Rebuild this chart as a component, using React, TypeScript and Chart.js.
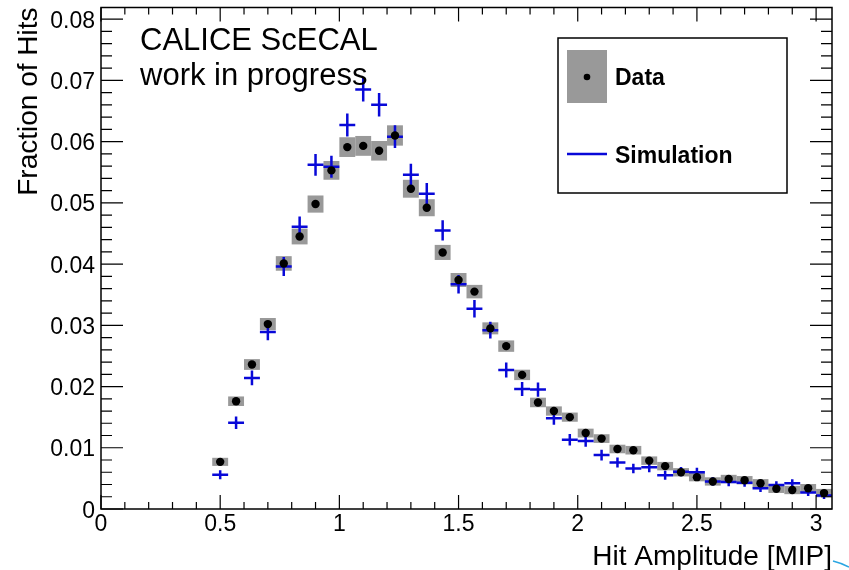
import { useEffect, useRef } from "react";
import { Chart, registerables } from "chart.js";

Chart.register(...registerables);

// Hit amplitude bins (MIP), bin width 1/15 MIP
const binCenters = [
  0.5, 0.5667, 0.6333, 0.7, 0.7667, 0.8333, 0.9, 0.9667, 1.0333, 1.1, 1.1667, 1.2333, 1.3,
  1.3667, 1.4333, 1.5, 1.5667, 1.6333, 1.7, 1.7667, 1.8333, 1.9, 1.9667, 2.0333, 2.1, 2.1667,
  2.2333, 2.3, 2.3667, 2.4333, 2.5, 2.5667, 2.6333, 2.7, 2.7667, 2.8333, 2.9, 2.9667, 3.0333,
];
const binWidth = 0.0667;

// Measured fraction of hits per bin
const dataFraction = [
  0.0077, 0.0176, 0.0236, 0.0302, 0.0401, 0.0445, 0.0498, 0.0553, 0.0591, 0.0593, 0.0585, 0.061,
  0.0523, 0.0492, 0.0419, 0.0374, 0.0355, 0.0295, 0.0266, 0.0219, 0.0174, 0.016, 0.015, 0.0124,
  0.0115, 0.0098, 0.0096, 0.0079, 0.007, 0.006, 0.0052, 0.0045, 0.0049, 0.0047, 0.0042, 0.0033,
  0.0031, 0.0034, 0.0026,
];
// Systematic uncertainty of the data (half height of the grey band)
const dataSyst = [
  0.00066, 0.00078, 0.00088, 0.00099, 0.00119, 0.00129, 0.0014, 0.00153, 0.00161, 0.00162, 0.0016,
  0.00166, 0.00146, 0.00139, 0.00123, 0.00114, 0.0011, 0.00098, 0.00093, 0.00085, 0.00078, 0.00076,
  0.00075, 0.00072, 0.00071, 0.0007, 0.0007, 0.00069, 0.00069, 0.00068, 0.00068, 0.00068, 0.00068,
  0.00068, 0.00068, 0.00068, 0.00068, 0.00068, 0.00068,
];

// Simulated fraction of hits per bin
const simFraction = [
  0.0056, 0.0141, 0.0214, 0.0289, 0.0396, 0.0461, 0.0562, 0.0559, 0.0627, 0.0685, 0.066, 0.0608,
  0.0546, 0.0515, 0.0455, 0.0367, 0.0327, 0.0292, 0.0227, 0.0196, 0.0195, 0.0148, 0.0113, 0.0111,
  0.0088, 0.0076, 0.0066, 0.0068, 0.0055, 0.0061, 0.006, 0.0045, 0.0044, 0.0043, 0.0034, 0.0039,
  0.0042, 0.0027, 0.0022,
];
// Statistical uncertainty of the simulation
const simErr = [
  0.00073, 0.00102, 0.0012, 0.00136, 0.00155, 0.00165, 0.00179, 0.00179, 0.00188, 0.00196, 0.00192,
  0.00186, 0.00177, 0.00173, 0.00164, 0.0015, 0.00143, 0.00136, 0.00123, 0.00116, 0.00116, 0.00104,
  0.00094, 0.00093, 0.00086, 0.00082, 0.00078, 0.00078, 0.00073, 0.00075, 0.00075, 0.00068, 0.00068,
  0.00067, 0.00063, 0.00065, 0.00067, 0.00058, 0.00055,
];

const xMin = 0;
const xMax = 3.0667;
const yMin = 0;
const yMax = 0.0819;

const xMajorTicks = [0, 0.5, 1, 1.5, 2, 2.5, 3];
const xTickLabels = ["0", "0.5", "1", "1.5", "2", "2.5", "3"];
const xMinorStep = 0.1;
const yMajorTicks = [0, 0.01, 0.02, 0.03, 0.04, 0.05, 0.06, 0.07, 0.08];
const yTickLabels = ["0", "0.01", "0.02", "0.03", "0.04", "0.05", "0.06", "0.07", "0.08"];
const yMinorStep = 0.002;

const xTitle = "Hit Amplitude [MIP]";
const yTitle = "Fraction of Hits";
const noteLines = ["CALICE ScECAL", "work in progress"];
const legendLabels = ["Data", "Simulation"];

const SIM_BLUE = "#0808d8";
const SYST_GREY = "#999999";
const FONT = "'Liberation Sans', Arial, Helvetica, sans-serif";

const rootStyle = {
  id: "rootStyle",
  beforeDatasetsDraw(chart: any) {
    const { ctx, scales } = chart;
    const x = scales.x;
    const y = scales.y;
    ctx.save();
    // grey systematic bands behind the data points
    ctx.fillStyle = SYST_GREY;
    binCenters.forEach((c, i) => {
      const x0 = x.getPixelForValue(c - binWidth / 2);
      const x1 = x.getPixelForValue(c + binWidth / 2);
      const y0 = y.getPixelForValue(dataFraction[i] + dataSyst[i]);
      const y1 = y.getPixelForValue(dataFraction[i] - dataSyst[i]);
      ctx.fillRect(x0, y0, x1 - x0, y1 - y0);
    });
    // simulation: horizontal bin bar with vertical error bar
    ctx.strokeStyle = SIM_BLUE;
    ctx.lineWidth = 2.5;
    ctx.lineCap = "butt";
    binCenters.forEach((c, i) => {
      const x0 = x.getPixelForValue(c - binWidth / 2);
      const x1 = x.getPixelForValue(c + binWidth / 2);
      const xc = x.getPixelForValue(c);
      const yc = y.getPixelForValue(simFraction[i]);
      const yt = y.getPixelForValue(simFraction[i] + simErr[i]);
      const yb = y.getPixelForValue(simFraction[i] - simErr[i]);
      ctx.beginPath();
      ctx.moveTo(x0, yc);
      ctx.lineTo(x1, yc);
      ctx.moveTo(xc, yt);
      ctx.lineTo(xc, yb);
      ctx.stroke();
    });
    ctx.restore();
  },
  afterDraw(chart: any) {
    const { ctx, scales, chartArea } = chart;
    const x = scales.x;
    const y = scales.y;
    const { left, right, top, bottom } = chartArea;
    ctx.save();

    // frame
    ctx.strokeStyle = "#000";
    ctx.lineWidth = 1.5;
    ctx.strokeRect(left, top, right - left, bottom - top);

    // ticks, drawn inwards on all four sides
    ctx.lineWidth = 1.2;
    ctx.beginPath();
    for (let v = xMin; v <= xMax + 1e-9; v += xMinorStep) {
      const px = x.getPixelForValue(v);
      const major = xMajorTicks.some((t) => Math.abs(t - v) < 1e-6);
      const len = major ? 14 : 7;
      ctx.moveTo(px, bottom);
      ctx.lineTo(px, bottom - len);
      ctx.moveTo(px, top);
      ctx.lineTo(px, top + len);
    }
    for (let v = yMin; v <= yMax + 1e-9; v += yMinorStep) {
      const py = y.getPixelForValue(v);
      const major = yMajorTicks.some((t) => Math.abs(t - v) < 1e-6);
      const len = major ? 22 : 11;
      ctx.moveTo(left, py);
      ctx.lineTo(left + len, py);
      ctx.moveTo(right, py);
      ctx.lineTo(right - len, py);
    }
    ctx.stroke();

    // tick labels
    ctx.fillStyle = "#000";
    ctx.font = `23px ${FONT}`;
    ctx.textBaseline = "alphabetic";
    ctx.textAlign = "center";
    xMajorTicks.forEach((v, i) => {
      ctx.fillText(xTickLabels[i], x.getPixelForValue(v), 531);
    });
    ctx.textAlign = "right";
    yMajorTicks.forEach((v, i) => {
      ctx.fillText(yTickLabels[i], left - 6, y.getPixelForValue(v) + 8.5);
    });

    // axis titles
    ctx.font = `28px ${FONT}`;
    ctx.textAlign = "right";
    ctx.fillText(xTitle, right, 565);
    ctx.save();
    ctx.translate(37, top);
    ctx.rotate(-Math.PI / 2);
    ctx.textAlign = "right";
    ctx.fillText(yTitle, 0, 0);
    ctx.restore();

    // note text
    ctx.font = `31px ${FONT}`;
    ctx.textAlign = "left";
    ctx.fillText(noteLines[0], 140, 50);
    ctx.fillText(noteLines[1], 140, 85);

    // legend
    ctx.fillStyle = "#fff";
    ctx.fillRect(558, 38, 229, 155);
    ctx.strokeStyle = "#000";
    ctx.lineWidth = 1.5;
    ctx.strokeRect(558, 38, 229, 155);
    ctx.fillStyle = SYST_GREY;
    ctx.fillRect(567, 50, 40, 53);
    ctx.fillStyle = "#000";
    ctx.beginPath();
    ctx.arc(587, 77, 3.3, 0, Math.PI * 2);
    ctx.fill();
    ctx.strokeStyle = SIM_BLUE;
    ctx.lineWidth = 2.5;
    ctx.beginPath();
    ctx.moveTo(567, 154);
    ctx.lineTo(607, 154);
    ctx.stroke();
    ctx.fillStyle = "#000";
    ctx.font = `bold 23px ${FONT}`;
    ctx.textAlign = "left";
    ctx.fillText(legendLabels[0], 615, 85);
    ctx.fillText(legendLabels[1], 615, 163);

    // small cyan stroke at the lower right corner
    ctx.strokeStyle = "#2aa6e2";
    ctx.lineWidth = 1.5;
    ctx.beginPath();
    ctx.moveTo(833, 561);
    ctx.quadraticCurveTo(841, 563, 849, 567);
    ctx.stroke();

    ctx.restore();
  },
};

export default function App() {
  const canvasRef = useRef<HTMLCanvasElement | null>(null);

  useEffect(() => {
    const canvas = canvasRef.current;
    if (!canvas) return;
    const chart = new Chart(canvas, {
      type: "scatter",
      data: {
        datasets: [
          {
            label: legendLabels[1],
            data: binCenters.map((c, i) => ({ x: c, y: simFraction[i] })),
            pointRadius: 0,
            showLine: false,
            borderColor: SIM_BLUE,
            backgroundColor: SIM_BLUE,
          },
          {
            label: legendLabels[0],
            data: binCenters.map((c, i) => ({ x: c, y: dataFraction[i] })),
            pointRadius: 4.2,
            pointBorderWidth: 0,
            pointBackgroundColor: "#000",
            borderColor: "#000",
            showLine: false,
          },
        ],
      },
      options: {
        responsive: false,
        animation: false,
        devicePixelRatio: 1,
        layout: { padding: { left: 101, top: 7.5, right: 17, bottom: 61 } },
        scales: {
          x: { type: "linear", min: xMin, max: xMax, display: false },
          y: { type: "linear", min: yMin, max: yMax, display: false },
        },
        plugins: {
          legend: { display: false },
          tooltip: { enabled: false },
        },
      },
      plugins: [rootStyle],
    });
    return () => chart.destroy();
  }, []);

  return (
    <div style={{ position: "fixed", left: 0, top: 0, width: 849, height: 570, background: "#fff" }}>
      <canvas ref={canvasRef} width={849} height={570} />
    </div>
  );
}
